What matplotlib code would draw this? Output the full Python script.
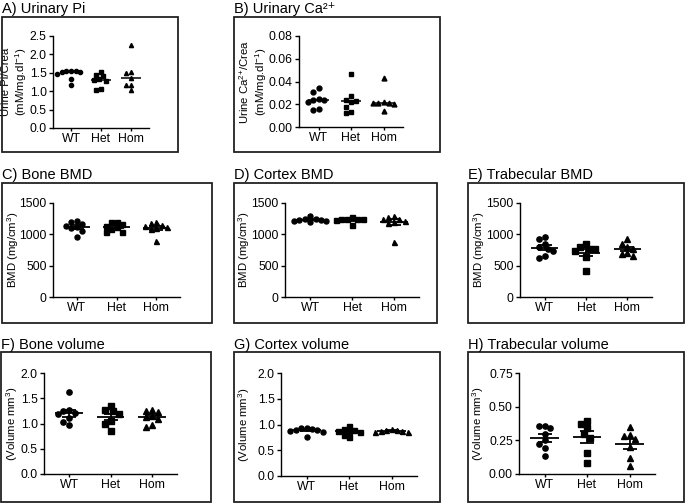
import numpy as np
import matplotlib.pyplot as plt
from matplotlib.patches import Rectangle

plt.rcParams['font.family'] = ['Liberation Sans', 'DejaVu Sans']
plt.rcParams['mathtext.fontset'] = 'custom'
plt.rcParams['mathtext.rm'] = 'Liberation Sans'
plt.rcParams['mathtext.it'] = 'Liberation Sans:italic'

groups = ['WT', 'Het', 'Hom']
markers = ['o', 's', '^']

# A) urinary Pi (median shown)
pi_wt = [1.55, 1.55, 1.54, 1.53, 1.52, 1.46, 1.33, 1.18]
pi_het = [1.52, 1.45, 1.40, 1.33, 1.30, 1.28, 1.07, 1.02]
pi_hom = [2.25, 1.52, 1.50, 1.36, 1.18, 1.17, 1.02]
# B) urinary Ca2+ (median shown)
ca_wt = [0.034, 0.031, 0.025, 0.024, 0.024, 0.022, 0.016, 0.015]
ca_het = [0.047, 0.027, 0.024, 0.023, 0.022, 0.018, 0.013, 0.012]
ca_hom = [0.043, 0.022, 0.021, 0.021, 0.021, 0.020, 0.014]
# C) bone BMD
bbmd_wt = [1210, 1195, 1170, 1140, 1120, 1100, 1060, 960]
bbmd_het = [1200, 1195, 1160, 1130, 1110, 1090, 1040, 1030]
bbmd_hom = [1190, 1180, 1150, 1130, 1120, 1100, 1090, 890]
# D) cortex BMD
cbmd_wt = [1290, 1250, 1240, 1230, 1230, 1220, 1210, 1200]
cbmd_het = [1270, 1250, 1240, 1240, 1240, 1230, 1150]
cbmd_hom = [1300, 1280, 1250, 1240, 1220, 1200, 1180, 880]
# E) trabecular BMD
tbmd_wt = [950, 930, 850, 790, 770, 740, 650, 630]
tbmd_het = [850, 790, 770, 760, 740, 640, 410]
tbmd_hom = [920, 850, 800, 770, 700, 680, 650]
# F) bone volume
bvol_wt = [1.62, 1.27, 1.24, 1.20, 1.18, 1.10, 1.02, 0.97]
bvol_het = [1.34, 1.27, 1.24, 1.18, 1.04, 1.00, 0.86]
bvol_hom = [1.27, 1.25, 1.22, 1.15, 1.12, 1.08, 0.97, 0.93]
# G) cortex volume
cvol_wt = [0.94, 0.93, 0.92, 0.90, 0.89, 0.88, 0.86, 0.76]
cvol_het = [0.98, 0.92, 0.89, 0.88, 0.87, 0.85, 0.80, 0.76]
cvol_hom = [0.92, 0.90, 0.89, 0.88, 0.87, 0.86, 0.85]
# H) trabecular volume
tvol_wt = [0.36, 0.355, 0.345, 0.30, 0.25, 0.22, 0.19, 0.13]
tvol_het = [0.39, 0.37, 0.34, 0.30, 0.27, 0.155, 0.08]
tvol_hom = [0.35, 0.29, 0.28, 0.26, 0.20, 0.12, 0.06]

W, H = 685, 503


def frect(x0, y0, x1, y1):
    return [x0 / W, 1 - y1 / H, (x1 - x0) / W, (y1 - y0) / H]


def swarm(vals, px_val, px_x, d=5.5):
    vals = np.asarray(vals, float)
    offs = np.zeros(len(vals))
    placed = []
    cands = sorted(np.arange(-12, 13) * d / 2, key=lambda c: (abs(c), c))
    for i in np.argsort(vals)[::-1]:
        y = vals[i] * px_val
        for c in cands:
            if all((c - px) ** 2 + (y - py) ** 2 >= d * d for px, py in placed):
                break
        placed.append((c, y))
        offs[i] = c / px_x
    return offs


# title, ylabel, data, yticks, fmt, stat, box px, axes px, ylabel right edge px, marker size
panels = [
    ('A) Urinary Pi', 'Urine Pi/Crea\n(mM/mg.dl$^{-1}$)', [pi_wt, pi_het, pi_hom],
     np.arange(0, 2.51, 0.5), '%.1f', 'median', (2, 17, 178, 152), (53, 36, 149, 128), 29, 3.0),
    ('B) Urinary Ca\u00b2\u207a', 'Urine Ca$^{\\text{2+}}$/Crea\n(mM/mg.dl$^{-1}$)', [ca_wt, ca_het, ca_hom],
     np.arange(0, 0.081, 0.02), '%.2f', 'median', (234, 17, 440, 152), (299, 36, 403, 127), 269, 3.5),
    ('C) Bone BMD', 'BMD (mg/cm$^{3}$)', [bbmd_wt, bbmd_het, bbmd_hom],
     [0, 500, 1000, 1500], '%d', 'mean', (2, 183, 212, 323), (53, 203, 180, 297), 21, 3.6),
    ('D) Cortex BMD', 'BMD (mg/cm$^{3}$)', [cbmd_wt, cbmd_het, cbmd_hom],
     [0, 500, 1000, 1500], '%d', 'mean', (234, 183, 437, 323), (285, 203, 419, 297), 252, 3.6),
    ('E) Trabecular BMD', 'BMD (mg/cm$^{3}$)', [tbmd_wt, tbmd_het, tbmd_hom],
     [0, 500, 1000, 1500], '%d', 'mean', (468, 183, 684, 323), (520, 203, 652, 297), 487, 3.8),
    ('F) Bone volume', '(Volume mm$^{3}$)', [bvol_wt, bvol_het, bvol_hom],
     np.arange(0, 2.01, 0.5), '%.1f', 'mean', (1, 352, 211, 502), (44, 373, 177, 474), 20, 3.8),
    ('G) Cortex volume', '(Volume mm$^{3}$)', [cvol_wt, cvol_het, cvol_hom],
     np.arange(0, 2.01, 0.5), '%.1f', 'mean', (234, 352, 440, 502), (281, 373, 417, 476), 252, 3.6),
    ('H) Trabecular volume', '(Volume mm$^{3}$)', [tvol_wt, tvol_het, tvol_hom],
     np.arange(0, 0.751, 0.25), '%.2f', 'mean', (468, 352, 684, 502), (519, 373, 655, 474), 486, 3.8),
]

fig = plt.figure(figsize=(6.85, 5.03), dpi=100)
xlim = (-0.6, 2.6)

for title, ylabel, data, yticks, fmt, stat, box, axp, lab_x, ms in panels:
    bx0, by0, bx1, by1 = box
    fig.patches.append(Rectangle((bx0 / W, 1 - by1 / H), (bx1 - bx0) / W, (by1 - by0) / H,
                                 transform=fig.transFigure, fill=False, lw=1.3, ec='#222222'))
    fig.text(bx0 / W, 1 - (by0 - 3.5) / H, title, fontsize=10.5, va='baseline', ha='left')
    ax = fig.add_axes(frect(*axp))
    ymax = yticks[-1]
    px_val = (axp[3] - axp[1]) / ymax
    px_x = (axp[2] - axp[0]) / (xlim[1] - xlim[0])
    for i, vals in enumerate(data):
        xs = i + swarm(vals, px_val, px_x, d=ms * 1.39 + 0.4)
        ax.plot(xs, vals, ls='none', marker=markers[i], ms=ms, color='k', mec='k', clip_on=False)
        v = np.asarray(vals)
        if stat == 'median':
            ax.hlines(np.median(v), i - 0.32, i + 0.32, color='k', lw=1.1)
        else:
            m = v.mean()
            sem = v.std(ddof=1) / np.sqrt(len(v))
            ax.hlines(m, i - 0.33, i + 0.33, color='k', lw=1.3)
            ax.errorbar(i, m, yerr=sem, color='k', lw=1.3, capsize=5, capthick=1.3)
    ax.set_xlim(*xlim)
    ax.set_ylim(0, ymax)
    ax.set_yticks(yticks)
    ax.set_yticklabels([fmt % t for t in yticks])
    ax.set_xticks(range(3))
    ax.set_xticklabels(groups)
    ax.set_ylabel(ylabel, fontsize=8.2)
    ax.yaxis.set_label_coords((lab_x - axp[0]) / (axp[2] - axp[0]), 0.5)
    ax.tick_params(direction='out', length=3, width=1, labelsize=8.8, pad=1.5)
    ax.tick_params(axis='x', length=2)
    for s in ['top', 'right']:
        ax.spines[s].set_visible(False)
    for s in ['left', 'bottom']:
        ax.spines[s].set_linewidth(1)
    ax.patch.set_alpha(0)

fig.savefig('out.png', dpi=100)
